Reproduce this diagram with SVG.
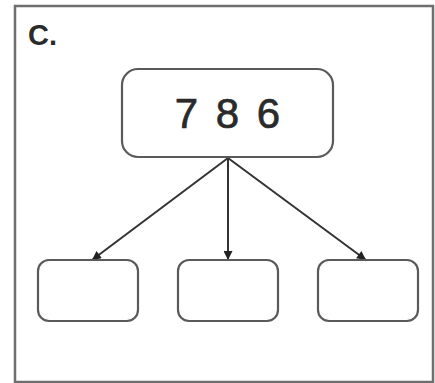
<svg xmlns="http://www.w3.org/2000/svg" width="435" height="383" viewBox="0 0 435 383">
<defs>
<style>
.frame{fill:#fff;stroke:#6e6e6e;stroke-width:2.5}
.box{fill:#fff;stroke:#5a5a5a;stroke-width:2.2}
.edge{stroke:#333;stroke-width:2;fill:none;marker-end:url(#ah)}
.lbl{font-family:"Liberation Sans",Arial,sans-serif;fill:#2a2a2a}
</style>
<marker id="ah" viewBox="0 0 10 10" refX="10" refY="5" markerWidth="10" markerHeight="9" orient="auto" markerUnits="userSpaceOnUse">
<path d="M0,0 L10,5 L0,10 z" fill="#222"/>
</marker>
</defs>
<rect x="0" y="0" width="435" height="383" fill="#fff"/>
<rect class="frame" x="15" y="6" width="418" height="376"/>
<text class="lbl" x="28" y="45" font-size="29" font-weight="bold" fill="#333">C.</text>
<g id="connectors">
<line class="edge" x1="228" y1="158" x2="92" y2="260"/>
<line class="edge" x1="228" y1="158" x2="228" y2="260"/>
<line class="edge" x1="228" y1="158" x2="366" y2="260"/>
</g>
<g id="node-top">
<rect class="box" x="122" y="69" width="211" height="88" rx="16"/>
<text class="lbl" x="229" y="128" font-size="42" text-anchor="middle" letter-spacing="3" stroke="#2a2a2a" stroke-width="0.7">7 8 6</text>
</g>
<g id="node-left">
<rect class="box" x="38" y="260" width="100" height="61" rx="11"/>
</g>
<g id="node-middle">
<rect class="box" x="178" y="260" width="100" height="61" rx="11"/>
</g>
<g id="node-right">
<rect class="box" x="318" y="260" width="100" height="61" rx="11"/>
</g>
</svg>
